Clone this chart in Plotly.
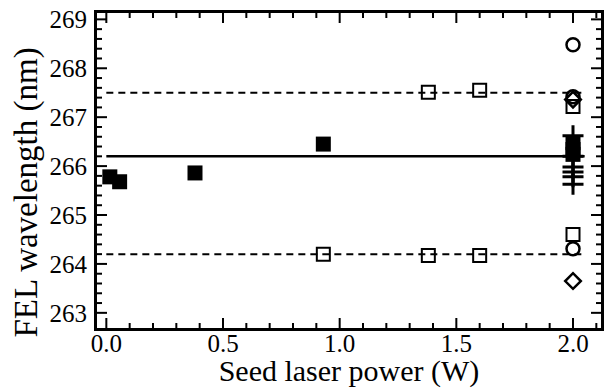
import numpy as np
import plotly.graph_objects as go

# Reference lines
line_x = [0.0, 2.05]
center_wl = 266.2
upper_wl = 267.5
lower_wl = 264.2

# Filled squares
fs_x = [0.015, 0.057, 0.38, 0.93, 2.0, 2.0, 2.0]
fs_y = [265.78, 265.68, 265.86, 266.45, 266.48, 266.34, 266.24]

# Open squares
os_x = [0.93, 1.38, 1.60, 1.38, 1.60, 2.0, 2.0]
os_y = [264.20, 264.17, 264.17, 267.51, 267.55, 267.22, 264.60]

# Open circles
oc_x = [2.0, 2.0, 2.0]
oc_y = [268.48, 267.42, 264.31]

# Open diamonds
od_x = [2.0, 2.0]
od_y = [267.36, 263.65]

# Plus markers
pl_x = [2.0, 2.0, 2.0, 2.0, 2.0, 2.0]
pl_y = [266.62, 266.2, 265.98, 265.88, 265.78, 265.63]

# Axis ticks
x_ticks = [0.0, 0.5, 1.0, 1.5, 2.0]
x_ticktext = ["0.0", "0.5", "1.0", "1.5", "2.0"]
y_ticks = [263, 264, 265, 266, 267, 268, 269]

x_range = [-0.04, 2.12]
y_range = [262.69, 269.13]

x_minor = [round(v, 2) for v in np.arange(0.0, 2.11, 0.1)
           if all(abs(v - t) > 1e-6 for t in x_ticks)]
y_minor = [round(v, 2) for v in np.arange(263.0, 269.01, 0.2)
           if all(abs(v - t) > 1e-6 for t in y_ticks)]

fig = go.Figure()

fig.add_trace(go.Scatter(x=line_x, y=[center_wl]*2, mode="lines",
                         line=dict(color="black", width=2.5), showlegend=False))
for yv in (upper_wl, lower_wl):
    fig.add_trace(go.Scatter(x=line_x, y=[yv]*2, mode="lines",
                             line=dict(color="black", width=2, dash="7px,5px"),
                             showlegend=False))

fig.add_trace(go.Scatter(x=pl_x, y=pl_y, mode="markers",
                         marker=dict(symbol="cross-thin-open", size=15, color="black",
                                     line=dict(color="black", width=3)),
                         showlegend=False))
fig.add_trace(go.Scatter(x=fs_x, y=fs_y, mode="markers",
                         marker=dict(symbol="square", size=15, color="black",
                                     line=dict(width=0)),
                         showlegend=False))
fig.add_trace(go.Scatter(x=os_x, y=os_y, mode="markers",
                         marker=dict(symbol="square-open", size=13,
                                     color="black", line=dict(width=2)),
                         showlegend=False))
fig.add_trace(go.Scatter(x=oc_x, y=oc_y, mode="markers",
                         marker=dict(symbol="circle-open", size=13,
                                     color="black", line=dict(width=2.5)),
                         showlegend=False))
fig.add_trace(go.Scatter(x=od_x, y=od_y, mode="markers",
                         marker=dict(symbol="diamond-open", size=12,
                                     color="black", line=dict(width=2.5)),
                         showlegend=False))

# Tick marks on all four sides, placed at the tick values via the axes
shapes = []
tick_line = dict(color="black", width=2)
for vals, length in ((x_ticks, 10), (x_minor, 5)):
    for v in vals:
        for anchor, sign in ((0, 1), (1, -1)):
            shapes.append(dict(type="line", xref="x", yref="paper",
                               x0=v, x1=v, ysizemode="pixel", yanchor=anchor,
                               y0=0, y1=sign * length, line=tick_line))
for vals, length in ((y_ticks, 10), (y_minor, 5)):
    for v in vals:
        for anchor, sign in ((0, 1), (1, -1)):
            shapes.append(dict(type="line", yref="y", xref="paper",
                               y0=v, y1=v, xsizemode="pixel", xanchor=anchor,
                               x0=0, x1=sign * length, line=tick_line))

serif = "Liberation Serif"

fig.update_layout(
    width=610, height=388,
    margin=dict(l=97, r=6, t=10, b=60),
    paper_bgcolor="white", plot_bgcolor="white",
    showlegend=False,
    shapes=shapes,
    xaxis=dict(
        range=x_range,
        tickvals=x_ticks, ticktext=x_ticktext,
        ticks="", showline=True, linewidth=3, linecolor="black", mirror=True,
        gridcolor="rgba(0,0,0,0)", zerolinecolor="rgba(0,0,0,0)",
        ticklabelstandoff=-9,
        tickfont=dict(size=25, family=serif, color="black"),
        title=dict(text="Seed laser power (W)",
                   font=dict(size=30, family=serif, color="black"),
                   standoff=4),
    ),
    yaxis=dict(
        range=y_range,
        tickvals=y_ticks,
        ticks="", showline=True, linewidth=3, linecolor="black", mirror=True,
        gridcolor="rgba(0,0,0,0)", zerolinecolor="rgba(0,0,0,0)",
        ticklabelstandoff=2,
        tickfont=dict(size=25, family=serif, color="black"),
    ),
    annotations=[dict(
        text="FEL wavelength (nm)", textangle=-90,
        xref="paper", yref="paper", x=0, y=0.43,
        xanchor="center", yanchor="middle", xshift=-70, showarrow=False,
        font=dict(size=33, family=serif, color="black"),
    )],
)

fig.write_html("out.html")
